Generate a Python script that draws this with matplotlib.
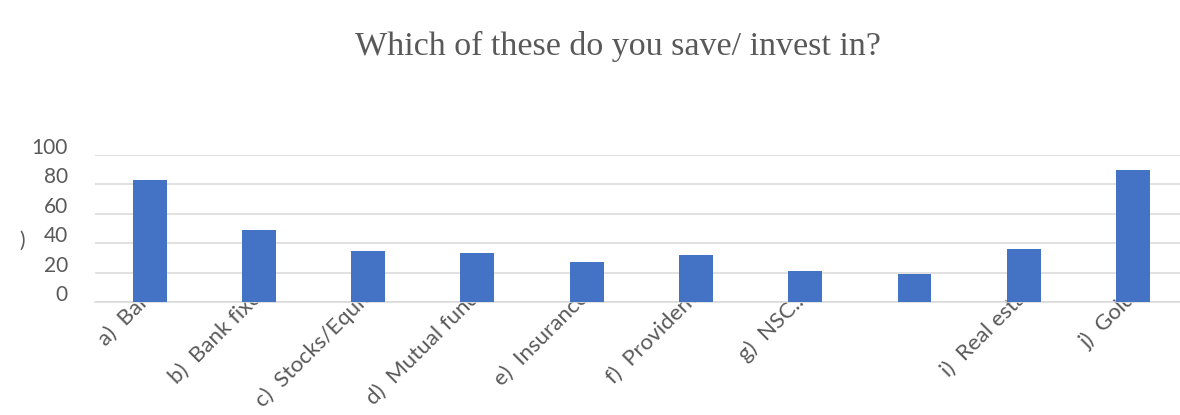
import matplotlib.pyplot as plt
from matplotlib.transforms import ScaledTranslation

categories = ["a)", "b)", "c)", "d)", "e)", "f)", "g)", "h)", "i)", "j)"]
tick_labels = [
    "a)  Ban",
    "b)  Bank fixe",
    "c)  Stocks/Equit",
    "d)  Mutual fund",
    "e)  Insurance",
    "f)  Provident",
    "g)  NSC...",
    "",
    "i)  Real esta",
    "j)  Gold",
]
values = [83, 49, 35, 33, 27, 32, 21, 19, 36, 90]
y_ticks = [0, 20, 40, 60, 80, 100]

BAR = "#4472C4"
GRID = "#d9d9d9"
TEXT = "#595959"

fig = plt.figure(figsize=(11.8, 4.15), dpi=100)
ax = fig.add_axes([0.0805, 0.2723, 0.926, 0.3542])

x = range(len(categories))
ax.bar(x, values, width=0.31, color=BAR, zorder=3)

ax.set_xlim(-0.5, len(categories) - 0.5)
ax.set_ylim(0, 100)
ax.set_yticks(y_ticks)
ax.set_yticklabels([str(v) for v in y_ticks], family="Lato", fontsize=15, color=TEXT)
ax.tick_params(axis="y", length=0, pad=19.5)
ax.set_xticks([])
ax.grid(axis="y", color=GRID, linewidth=1.1, zorder=0)
for side in ["top", "right", "left"]:
    ax.spines[side].set_visible(False)
ax.spines["bottom"].set_color(GRID)
ax.spines["bottom"].set_linewidth(1.1)

# y labels sit a little above their gridlines
up = ScaledTranslation(0, 9 / 100, fig.dpi_scale_trans)
for lbl in ax.get_yticklabels():
    lbl.set_transform(lbl.get_transform() + up)

# rotated category labels, their ends tucked under the bars
shift = ScaledTranslation(-8 / 100, 14 / 100, fig.dpi_scale_trans)
for i, label in enumerate(tick_labels):
    ax.text(i, 0, label, transform=ax.get_xaxis_transform() + shift,
            rotation=45, rotation_mode="anchor", ha="right", va="top",
            family="Lato", fontsize=16, color=TEXT, zorder=2, clip_on=False)

fig.text(0.016, 0.42, ")", family="Lato", fontsize=15, color=TEXT, ha="left", va="center")

fig.text(0.5237, 0.8675, "Which of these do you save/ invest in?",
         family="Liberation Serif", fontsize=24.5, color=TEXT, ha="center", va="baseline")

fig.savefig("out.png", dpi=100)
